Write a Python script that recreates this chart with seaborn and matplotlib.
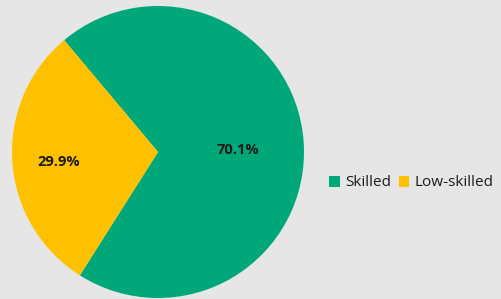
import numpy as np
import matplotlib
matplotlib.use("Agg")
import matplotlib.pyplot as plt
import seaborn as sns

# data
labels = ["Skilled", "Low-skilled"]
shares = [70.1, 29.9]
colors = ["#00a879", "#ffc000"]

sns.set_style("white")
plt.rcParams["font.family"] = ["Open Sans", "DejaVu Sans"]

bg = "#e6e6e6"
fig = plt.figure(figsize=(5.02, 2.99), dpi=100, facecolor=bg)

# pie centre ~ (158, 152) px, radius ~146 px
cx, cy, r = 158, 299 - 152, 146
ax = fig.add_axes([(cx - r) / 502, (cy - r) / 299, 2 * r / 502, 2 * r / 299])
ax.set_facecolor(bg)

wedges, texts, autotexts = ax.pie(
    shares, colors=colors, startangle=130, counterclock=False,
    autopct="%.1f%%", pctdistance=0.55, radius=1,
    wedgeprops=dict(linewidth=0),
    textprops=dict(fontsize=10.5, fontweight="bold", color="#1a1a1a"),
)
# push the small slice label a bit further out
for w, t, d in zip(wedges, autotexts, [0.55, 0.68]):
    mid = np.deg2rad((w.theta1 + w.theta2) / 2)
    t.set_position((d * np.cos(mid), d * np.sin(mid) - 0.02))

ax.set_xlim(-1, 1)
ax.set_ylim(-1, 1)
ax.set_aspect("equal")
ax.axis("off")

fig.legend(wedges, labels, loc="center left", bbox_to_anchor=(323 / 502, 1 - 183 / 299),
           ncol=2, frameon=False, fontsize=11, handlelength=0.7, handleheight=0.7,
           handletextpad=0.35, columnspacing=0.5, borderaxespad=0,
           labelcolor="#1a1a1a")

fig.savefig("out.png", dpi=100, facecolor=bg)
